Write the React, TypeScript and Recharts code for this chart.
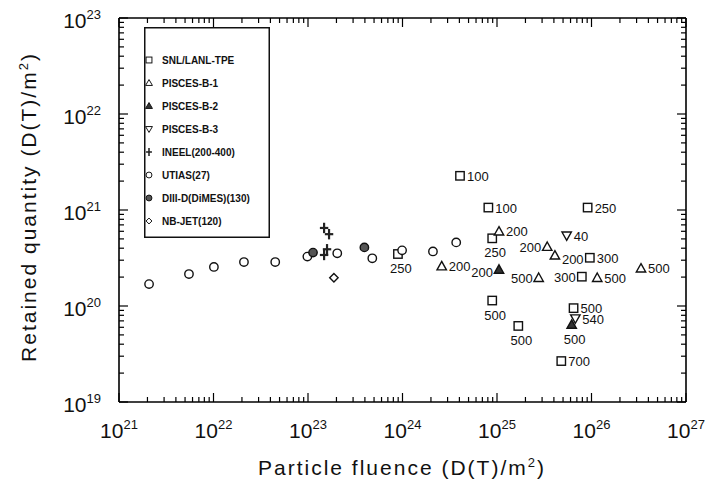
import { ScatterChart, Scatter, XAxis, YAxis } from "recharts"

// fluence (x) and retained quantity (y)
const SNL_X = [4.06e24, 8.1e24, 8.9e24, 8.95e23, 9.1e25, 9.6e25, 7.9e25, 8.9e24, 1.68e25, 6.46e25, 4.79e25]
const SNL_Y = [2.27e21, 1.06e21, 5.07e20, 3.48e20, 1.06e21, 3.18e20, 2.02e20, 1.14e20, 6.2e19, 9.5e19, 2.67e19]
const SNL_LABEL = ["100", "100", "250", "250", "250", "300", "300", "500", "500", "500", "700"]

const PB1_X = [1.05e25, 2.6e24, 3.4e25, 4.1e25, 2.76e25, 1.15e26, 3.34e26]
const PB1_Y = [6.0e20, 2.6e20, 4.15e20, 3.37e20, 1.97e20, 1.97e20, 2.47e20]
const PB1_LABEL = ["200", "200", "200", "200", "500", "500", "500"]

const PB2_X = [1.05e25, 6.17e25]
const PB2_Y = [2.4e20, 6.4e19]
const PB2_LABEL = ["200", "500"]

const PB3_X = [5.46e25, 6.75e25]
const PB3_Y = [5.4e20, 7.4e19]
const PB3_LABEL = ["40", "540"]

const INEEL_X = [1.48e23, 1.67e23, 1.59e23, 1.48e23]
const INEEL_Y = [6.5e20, 5.6e20, 3.9e20, 3.4e20]

const UTIAS_X = [2.08e21, 5.5e21, 1.01e22, 2.1e22, 4.5e22, 9.85e22, 2.04e23, 4.79e23, 9.9e23, 2.1e24, 3.7e24]
const UTIAS_Y = [1.69e20, 2.15e20, 2.55e20, 2.87e20, 2.87e20, 3.27e20, 3.54e20, 3.14e20, 3.8e20, 3.7e20, 4.6e20]

const DIIID_X = [1.13e23, 3.95e23]
const DIIID_Y = [3.6e20, 4.08e20]

const NBJET_X = [1.88e23]
const NBJET_Y = [1.97e20]

const X_DECADES = [21, 22, 23, 24, 25, 26, 27]
const Y_DECADES = [19, 20, 21, 22, 23]

// where each point label sits relative to its marker
const SNL_POS = ["r", "r", "b", "b", "r", "r", "l", "b", "b", "r", "r"]
const PB1_POS = ["r", "r", "l", "rd", "l", "r", "r"]
const PB2_POS = ["ld", "b"]
const PB3_POS = ["r", "r"]

const LEGEND = [
  { name: "SNL/LANL-TPE", kind: "square" },
  { name: "PISCES-B-1", kind: "tri" },
  { name: "PISCES-B-2", kind: "triFill" },
  { name: "PISCES-B-3", kind: "triDown" },
  { name: "INEEL(200-400)", kind: "cross" },
  { name: "UTIAS(27)", kind: "circle" },
  { name: "DIII-D(DiMES)(130)", kind: "circleFill" },
  { name: "NB-JET(120)", kind: "diamond" },
]

const FONT = "'Liberation Sans', Arial, Helvetica, sans-serif"

const toRows = (xs: number[], ys: number[], labels?: string[], pos?: string[]) =>
  xs.map((x, i) => ({ x, y: ys[i], label: labels ? labels[i] : "", pos: pos ? pos[i] : "" }))

const minorTicks = (decades: number[]) =>
  decades.flatMap((d, i) =>
    i === decades.length - 1 ? [10 ** d] : [1, 2, 3, 4, 5, 6, 7, 8, 9].map((m) => m * 10 ** d)
  )

const isMajor = (v: number) => Math.abs(Math.log10(v) - Math.round(Math.log10(v))) < 1e-6

function Marker({ kind, cx, cy, s = 1 }: { kind: string; cx: number; cy: number; s?: number }) {
  const k = { stroke: "#111", strokeWidth: 1.4 * s, fill: "#fff" }
  const h = 4.2 * s
  switch (kind) {
    case "square":
      return <rect x={cx - h} y={cy - h} width={2 * h} height={2 * h} {...k} />
    case "tri":
      return <polygon points={`${cx},${cy - h - 0.5} ${cx + h + 0.5},${cy + h - 0.5} ${cx - h - 0.5},${cy + h - 0.5}`} {...k} />
    case "triFill":
      return <polygon points={`${cx},${cy - h - 0.5} ${cx + h + 0.5},${cy + h - 0.5} ${cx - h - 0.5},${cy + h - 0.5}`} {...k} fill="#333" />
    case "triDown":
      return <polygon points={`${cx},${cy + h + 0.5} ${cx + h + 0.5},${cy - h + 0.5} ${cx - h - 0.5},${cy - h + 0.5}`} {...k} />
    case "cross":
      return (
        <g stroke="#222" strokeWidth={2.2 * s}>
          <line x1={cx - h} y1={cy} x2={cx + h} y2={cy} />
          <line x1={cx} y1={cy - h - 1} x2={cx} y2={cy + h + 1} />
        </g>
      )
    case "circle":
      return <circle cx={cx} cy={cy} r={h} {...k} />
    case "circleFill":
      return <circle cx={cx} cy={cy} r={h} {...k} fill="#555" />
    case "diamond":
      return <polygon points={`${cx},${cy - h} ${cx + h},${cy} ${cx},${cy + h} ${cx - h},${cy}`} {...k} />
  }
  return null
}

const shapeFor = (kind: string) => (props: any) => {
  const { cx, cy, payload } = props
  const p = payload.pos
  let tx = cx + 7
  let ty = cy + 5
  let anchor = "start"
  if (p === "b") {
    tx = cx + 3
    ty = cy + 19
    anchor = "middle"
  } else if (p === "l" || p === "ld") {
    tx = cx - 6
    anchor = "end"
    if (p === "ld") ty = cy + 8
  } else if (p === "rd") {
    ty = cy + 9
  }
  return (
    <g>
      <Marker kind={kind} cx={cx} cy={cy} />
      {payload.label ? (
        <text x={tx} y={ty} textAnchor={anchor} fontSize={13} fontFamily={FONT} fill="#111">
          {payload.label}
        </text>
      ) : null}
    </g>
  )
}

const Sup = ({ v }: { v: number }) => (
  <>
    <tspan>10</tspan>
    <tspan dy={-9} fontSize={13}>
      {Math.round(Math.log10(v))}
    </tspan>
  </>
)

function BottomTick(props: any) {
  const { x, y, payload } = props
  const major = isMajor(payload.value)
  return (
    <g>
      <line x1={x} y1={y} x2={x} y2={y - (major ? 9 : 5)} stroke="#000" strokeWidth={1.2} />
      {major ? (
        <text x={x} y={y + 36} textAnchor="middle" fontSize={21} fontFamily={FONT} fill="#111">
          <Sup v={payload.value} />
        </text>
      ) : null}
    </g>
  )
}

function TopTick(props: any) {
  const { x, y, payload } = props
  const major = isMajor(payload.value)
  return <line x1={x} y1={y} x2={x} y2={y + (major ? 9 : 5)} stroke="#000" strokeWidth={1.2} />
}

function LeftTick(props: any) {
  const { x, y, payload } = props
  const major = isMajor(payload.value)
  return (
    <g>
      <line x1={x} y1={y} x2={x + (major ? 9 : 5)} y2={y} stroke="#000" strokeWidth={1.2} />
      {major ? (
        <text x={x - 18} y={y + 10} textAnchor="end" fontSize={21} fontFamily={FONT} fill="#111">
          <Sup v={payload.value} />
        </text>
      ) : null}
    </g>
  )
}

function RightTick(props: any) {
  const { x, y, payload } = props
  const major = isMajor(payload.value)
  return <line x1={x} y1={y} x2={x - (major ? 9 : 5)} y2={y} stroke="#000" strokeWidth={1.2} />
}

function LegendBox() {
  return (
    <svg width={126} height={211} style={{ display: "block" }}>
      <rect x={0.75} y={0.75} width={124.5} height={209.5} fill="#fff" stroke="#111" strokeWidth={1.5} />
      {LEGEND.map((l, i) => (
        <g key={l.name}>
          <Marker kind={l.kind} cx={5} cy={33 + i * 23} s={0.7} />
          <text x={18} y={37 + i * 23} fontSize={10} fontWeight="bold" fontFamily={FONT} fill="#111">
            {l.name}
          </text>
        </g>
      ))}
    </svg>
  )
}

export default function App() {
  const xTicks = minorTicks(X_DECADES)
  const yTicks = minorTicks(Y_DECADES)
  const xDom = [10 ** X_DECADES[0], 10 ** X_DECADES[X_DECADES.length - 1]]
  const yDom = [10 ** Y_DECADES[0], 10 ** Y_DECADES[Y_DECADES.length - 1]]
  const axisLine = { stroke: "#000", strokeWidth: 1.6 }
  const series = [
    { name: "SNL/LANL-TPE", kind: "square", data: toRows(SNL_X, SNL_Y, SNL_LABEL, SNL_POS) },
    { name: "PISCES-B-1", kind: "tri", data: toRows(PB1_X, PB1_Y, PB1_LABEL, PB1_POS) },
    { name: "PISCES-B-2", kind: "triFill", data: toRows(PB2_X, PB2_Y, PB2_LABEL, PB2_POS) },
    { name: "PISCES-B-3", kind: "triDown", data: toRows(PB3_X, PB3_Y, PB3_LABEL, PB3_POS) },
    { name: "INEEL(200-400)", kind: "cross", data: toRows(INEEL_X, INEEL_Y) },
    { name: "UTIAS(27)", kind: "circle", data: toRows(UTIAS_X, UTIAS_Y) },
    { name: "DIII-D(DiMES)(130)", kind: "circleFill", data: toRows(DIIID_X, DIIID_Y) },
    { name: "NB-JET(120)", kind: "diamond", data: toRows(NBJET_X, NBJET_Y) },
  ]
  const allRows = series.flatMap((s) => s.data)

  return (
    <div style={{ position: "absolute", left: 0, top: 0, width: 709, height: 484, background: "#fff" }}>
      <ScatterChart width={709} height={484} margin={{ top: 17, right: 22, bottom: 81, left: 118 }}>
        <XAxis xAxisId="b" type="number" dataKey="x" scale="log" domain={xDom} ticks={xTicks} allowDataOverflow
          height={1} tickSize={0} tickMargin={0} tickLine={false} axisLine={axisLine} tick={<BottomTick />} interval={0} />
        <XAxis xAxisId="t" orientation="top" type="number" dataKey="x" scale="log" domain={xDom} ticks={xTicks} allowDataOverflow
          height={1} tickSize={0} tickMargin={0} tickLine={false} axisLine={axisLine} tick={<TopTick />} interval={0} />
        <YAxis yAxisId="l" type="number" dataKey="y" scale="log" domain={yDom} ticks={yTicks} allowDataOverflow
          width={1} tickSize={0} tickMargin={0} tickLine={false} axisLine={axisLine} tick={<LeftTick />} interval={0} />
        <YAxis yAxisId="r" orientation="right" type="number" dataKey="y" scale="log" domain={yDom} ticks={yTicks} allowDataOverflow
          width={1} tickSize={0} tickMargin={0} tickLine={false} axisLine={axisLine} tick={<RightTick />} interval={0} />
        {series.map((s) => (
          <Scatter key={s.name} name={s.name} data={s.data} xAxisId="b" yAxisId="l" shape={shapeFor(s.kind)} isAnimationActive={false} />
        ))}
        <Scatter data={allRows} xAxisId="t" yAxisId="r" shape={() => <g />} isAnimationActive={false} legendType="none" />
        <text x={402} y={475} textAnchor="middle" fontSize={21} letterSpacing={2} fontFamily={FONT} fill="#111">
          Particle fluence (D(T)/m<tspan dy={-8} fontSize={13}>2</tspan><tspan dy={8}>)</tspan>
        </text>
        <text x={36} y={207} transform="rotate(-90 36 207)" textAnchor="middle" fontSize={21} letterSpacing={2} fontFamily={FONT} fill="#111">
          Retained quantity (D(T)/m<tspan dy={-8} fontSize={13}>2</tspan><tspan dy={8}>)</tspan>
        </text>
      </ScatterChart>
      <div style={{ position: "absolute", left: 144, top: 27 }}>
        <LegendBox />
      </div>
    </div>
  )
}
